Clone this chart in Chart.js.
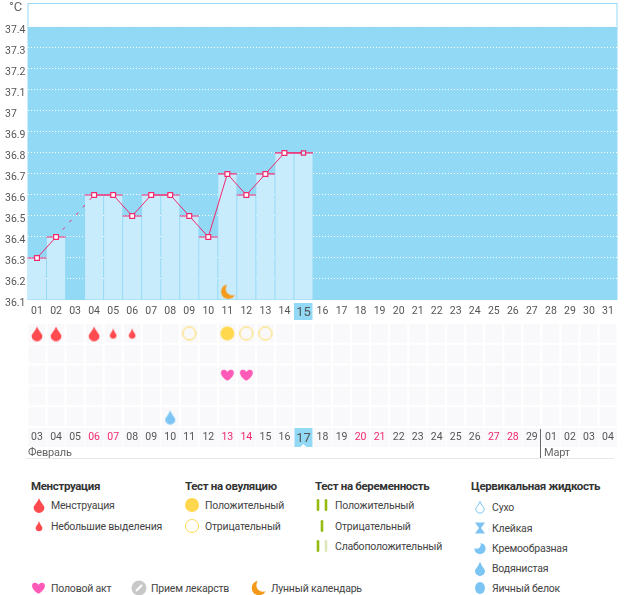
<!DOCTYPE html>
<html>
<head>
<meta charset="utf-8">
<title>График БТТ</title>
<script src="https://cdn.jsdelivr.net/npm/chart.js@4"></script>
<style>
  html, body { margin: 0; padding: 0; background: #fff; overflow: hidden; }
  body { width: 626px; height: 595px; position: relative; font-family: Roboto, sans-serif; color: #444; }
  canvas { position: absolute; }
  #tempWrap { position: absolute; left: 0; top: 0; width: 626px; height: 322px; }
  #symWrap { position: absolute; left: 0; top: 320px; width: 626px; height: 128px; }
  .t { position: absolute; font-size: 10.5px; letter-spacing: -0.2px; line-height: 14px; white-space: nowrap; margin-top: 1px; }
  .h { position: absolute; font-size: 11.5px; letter-spacing: -0.35px; line-height: 14px; font-weight: 700; white-space: nowrap; color: #333; }
  .m { position: absolute; font-size: 11px; letter-spacing: -0.2px; line-height: 14px; color: #666; white-space: nowrap; }
  .rule { position: absolute; background: #e8e8e8; }
</style>
</head>
<body>
<div id="tempWrap"><canvas id="tempChart"></canvas></div>
<div id="symWrap"><canvas id="symChart"></canvas></div>

<div class="m" style="left:9px;top:0px;font-size:13px">°C</div>
<div class="m" style="left:28px;top:446px">Февраль</div>
<div class="m" style="left:544px;top:446px">Март</div>
<div class="rule" style="left:26px;top:458px;width:588px;height:1px"></div>
<div class="rule" style="left:540px;top:429px;width:1px;height:29px;background:#666"></div>

<div class="h" style="left:31px;top:479px">Менструация</div>
<div class="t" style="left:51px;top:498px">Менструация</div>
<div class="t" style="left:51px;top:519px">Небольшие выделения</div>

<div class="h" style="left:185px;top:479px">Тест на овуляцию</div>
<div class="t" style="left:205px;top:498px">Положительный</div>
<div class="t" style="left:205px;top:519px">Отрицательный</div>

<div class="h" style="left:315px;top:479px">Тест на беременность</div>
<div class="t" style="left:335px;top:498px">Положительный</div>
<div class="t" style="left:335px;top:519px">Отрицательный</div>
<div class="t" style="left:335px;top:539px">Слабоположительный</div>

<div class="h" style="left:471px;top:479px">Цервикальная жидкость</div>
<div class="t" style="left:492px;top:500px">Сухо</div>
<div class="t" style="left:492px;top:521px">Клейкая</div>
<div class="t" style="left:492px;top:541px">Кремообразная</div>
<div class="t" style="left:492px;top:561px">Водянистая</div>
<div class="t" style="left:492px;top:581px">Яичный белок</div>

<div class="t" style="left:51px;top:581px">Половой акт</div>
<div class="t" style="left:151px;top:581px">Прием лекарств</div>
<div class="t" style="left:271px;top:581px">Лунный календарь</div>

<script>
// cycle days on the top axis, calendar dates on the bottom one
const cycleDays = ["01","02","03","04","05","06","07","08","09","10","11","12","13","14","15","16",
  "17","18","19","20","21","22","23","24","25","26","27","28","29","30","31"];
const calendarDays = ["03","04","05","06","07","08","09","10","11","12","13","14","15","16","17","18",
  "19","20","21","22","23","24","25","26","27","28","29","01","02","03","04"];
const redDates = [3,4,10,11,17,18,24,25]; // positions of the red dates
const todayIndex = 14;

const temps = [36.3,36.4,null,36.6,36.6,36.5,36.6,36.6,36.5,36.4,36.7,36.6,36.7,36.8,36.8];
const tempTicks = [36.1,36.2,36.3,36.4,36.5,36.6,36.7,36.8,36.9,37,37.1,37.2,37.3,37.4];

const menstruationDays = ["01","02","04"];
const spottingDays = ["05","06"];
const ovulationPosDays = ["11"];
const ovulationNegDays = ["09","12","13"];
const intercourseDays = ["11","12"];
const wateryDays = ["08"];
const moonDays = ["11"];

const BLUE = "#92d9f5", BAR = "#c9ecfd", PINK = "#f0286e", RED = "#ff4b4f", INK = "#555", CELL = "#f9f9fb";
const YELLOW = "#ffd84d", HEART = "#ff5ab8", WATER = "#7cc4f4", ORANGE = "#f49a1a";
const TICK_FONT = "Roboto";

// ---- icons
function icon(w, h, fn) {
  const c = document.createElement("canvas");
  c.width = w; c.height = h;
  fn(c.getContext("2d"), w / 2, h / 2);
  return c;
}
function dropPath(g, cx, cy, r, hh) {
  // r = belly radius, hh = height of the tip above centre
  g.beginPath();
  g.moveTo(cx, cy - hh);
  g.bezierCurveTo(cx + r * 0.3, cy - hh * 0.45, cx + r, cy - r * 0.3, cx + r, cy + r * 0.1);
  g.arc(cx, cy + r * 0.1, r, 0, Math.PI);
  g.bezierCurveTo(cx - r, cy - r * 0.3, cx - r * 0.3, cy - hh * 0.45, cx, cy - hh);
  g.closePath();
}
const bigDrop = () => icon(14, 18, (g, x, y) => { dropPath(g, x, y + 2, 5.4, 9); g.fillStyle = RED; g.fill(); });
const smallDrop = () => icon(10, 14, (g, x, y) => { dropPath(g, x, y + 1.5, 3.4, 6.5); g.fillStyle = RED; g.fill(); });
const solidCircle = () => icon(16, 16, (g, x, y) => { g.beginPath(); g.arc(x, y, 7, 0, 7); g.fillStyle = YELLOW; g.fill(); });
const ringCircle = () => icon(16, 16, (g, x, y) => { g.beginPath(); g.arc(x, y, 6.5, 0, 7); g.strokeStyle = YELLOW; g.lineWidth = 1; g.stroke(); });
const heart = () => icon(15, 14, (g, x, y) => {
  g.beginPath();
  g.moveTo(x, y + 5.8);
  g.bezierCurveTo(x - 9, y, x - 7, y - 5.6, x - 3.4, y - 5.2);
  g.bezierCurveTo(x - 1.6, y - 5, x, y - 3.6, x, y - 2.8);
  g.bezierCurveTo(x, y - 3.6, x + 1.6, y - 5, x + 3.4, y - 5.2);
  g.bezierCurveTo(x + 7, y - 5.6, x + 9, y, x, y + 5.8);
  g.fillStyle = HEART; g.fill();
});
const waterDrop = () => icon(14, 18, (g, x, y) => { dropPath(g, x, y + 2.5, 5, 9); g.fillStyle = WATER; g.fill(); });
const moon = () => icon(18, 18, (g, x, y) => {
  g.fillStyle = ORANGE;
  g.beginPath(); g.arc(x + 1, y, 7.3, 0, 7); g.fill();
  g.globalCompositeOperation = "destination-out";
  g.beginPath(); g.arc(x + 5, y - 3, 6.7, 0, 7); g.fill();
});
const pill = () => icon(16, 16, (g, x, y) => {
  g.beginPath(); g.arc(x, y, 7.5, 0, 7); g.fillStyle = "#c8c8c8"; g.fill();
  g.strokeStyle = "#fff"; g.lineWidth = 2;
  g.beginPath(); g.moveTo(x - 3, y + 3); g.lineTo(x + 3, y - 3); g.stroke();
});
const bars = (a, b, one) => icon(16, 14, (g, x, y) => {
  g.lineWidth = 2.6; g.lineCap = "round";
  const draw = (px, col) => { g.strokeStyle = col; g.beginPath(); g.moveTo(px, y - 4.7); g.lineTo(px, y + 4.7); g.stroke(); };
  if (one) { draw(x, a); return; }
  draw(x - 4, a); draw(x + 4, b);
});
const dryDrop = () => icon(14, 16, (g, x, y) => { dropPath(g, x, y + 1.5, 4.2, 7); g.strokeStyle = WATER; g.lineWidth = 1; g.stroke(); });
const sticky = () => icon(14, 14, (g, x, y) => {
  g.fillStyle = WATER;
  g.beginPath(); g.moveTo(x - 5, y - 5.5); g.lineTo(x + 5, y - 5.5); g.lineTo(x + 1, y); g.lineTo(x + 5, y + 5.5);
  g.lineTo(x - 5, y + 5.5); g.lineTo(x - 1, y); g.closePath(); g.fill();
});
const creamy = () => icon(14, 14, (g, x, y) => {
  g.fillStyle = WATER;
  g.beginPath(); g.arc(x, y + 0.5, 5.6, 0, 7); g.fill();
  g.globalCompositeOperation = "destination-out";
  g.beginPath(); g.arc(x - 3.4, y - 3.5, 4.2, 0, 7); g.fill();
});
const eggWhite = () => icon(14, 16, (g, x, y) => { g.beginPath(); g.ellipse(x, y, 5, 6, 0, 0, 7); g.fillStyle = WATER; g.fill(); });

// legend icons, centre points
const GREEN = "#96bc12", PALE = "#dde8ba";
[[bigDrop(),38.5,505],[smallDrop(),38.5,526],[solidCircle(),192,505],[ringCircle(),192,526],
 [bars(GREEN,GREEN),322,505],[bars(GREEN,GREEN,true),322,526],[bars(GREEN,PALE),322,546],
 [dryDrop(),480,507],[sticky(),480,528],[creamy(),480,548],[waterDrop(),480,568],[eggWhite(),480,588],
 [heart(),38,588],[pill(),139,588],[moon(),258,588]
].forEach(([c, x, y]) => {
  c.style.left = (x - c.width / 2) + "px";
  c.style.top = (y - c.height / 2) + "px";
  document.body.appendChild(c);
});

// ---- temperature chart
const frame = {
  id: "frame",
  beforeDraw(chart) {
    const { ctx, chartArea: a, scales: { x, y } } = chart;
    ctx.save();
    const top = y.getPixelForValue(37.4);
    ctx.fillStyle = BLUE;
    ctx.fillRect(a.left, top, a.right - a.left, a.bottom - top);
    ctx.strokeStyle = BLUE;
    ctx.strokeRect(a.left + 0.5, a.top + 0.5, a.right - a.left - 1, top - a.top);
    const p = x.getPixelForValue(todayIndex);
    ctx.fillRect(p - 9.5, a.bottom + 3, 18.5, 17);
    ctx.restore();
  }
};

new Chart(document.getElementById("tempChart"), {
  data: {
    labels: cycleDays,
    datasets: [
      { type: "scatter", data: moonDays.map(d => ({ x: d, y: 36.14 })), pointStyle: moon(), order: 0 },
      { type: "line", data: temps, order: 1, borderColor: PINK, borderWidth: 1, pointStyle: "rect", tension: 0, spanGaps: true,
        pointRadius: ctx => ctx.dataIndex === todayIndex ? 3 : 3.4,
        pointBackgroundColor: ctx => ctx.dataIndex === todayIndex ? BAR : "#fff",
        pointBorderColor: PINK, pointBorderWidth: 1.2,
        segment: { borderDash: ctx => (ctx.p0.skip || ctx.p1.skip) ? [3, 7] : undefined } },
      { type: "line", data: temps, order: 2, showLine: false, pointStyle: "line", pointRadius: 9.5,
        pointBorderColor: PINK, pointBorderWidth: 1.2 },
      { type: "bar", data: temps, order: 3, backgroundColor: BAR, categoryPercentage: 1, barPercentage: 0.95,
        base: 36.1, inflateAmount: 0 }
    ]
  },
  options: {
    responsive: true, maintainAspectRatio: false, animation: false, events: [],
    layout: { autoPadding: false, padding: { top: 3, right: 8.5, left: 5, bottom: 0 } },
    plugins: { legend: { display: false }, tooltip: { enabled: false } },
    scales: {
      x: {
        type: "category",
        grid: { display: false, drawTicks: false }, border: { display: false },
        afterFit: s => { s.height = 22; s.paddingLeft = 0; s.paddingRight = 0; },
        ticks: {
          maxRotation: 0, autoSkip: false, padding: 5,
          color: INK,
          font: ctx => ({ family: TICK_FONT, size: ctx.index === todayIndex ? 13 : 10.5 })
        }
      },
      y: {
        min: 36.1, max: 37.514,
        afterBuildTicks: s => { s.ticks = tempTicks.map(v => ({ value: v })); },
        afterFit: s => { s.width = 22.5; s.paddingTop = 0; s.paddingBottom = 0; },
        grid: { color: "#fff", drawTicks: false, lineWidth: 1 },
        border: { display: false, dash: [1, 2] },
        ticks: {
          color: INK, padding: 5, labelOffset: 3, crossAlign: "far",
          font: { family: TICK_FONT, size: 10.5 },
          callback: v => String(+(+v).toFixed(1))
        }
      }
    }
  },
  plugins: [frame]
});

// ---- symbol grid with the calendar dates under it
const rowTop = 4.5; // value on the row scale for the first row, counted from the top
const atRow = (days, row) => days.map(d => ({ x: d, y: rowTop - row }));
const cellRows = [0, 1, 2, 3, 4].map(r => ({
  type: "bar", order: 9, data: cycleDays.map(() => [r, r + 1]), grouped: false,
  backgroundColor: CELL, borderColor: "#fff", borderWidth: 1, borderSkipped: false,
  categoryPercentage: 1, barPercentage: 1, inflateAmount: 0
}));

// label row under the grid, filled per column from the same x scale
const dateRow = {
  id: "dateRow",
  beforeDraw(chart) {
    const { ctx, chartArea: a, scales: { x } } = chart;
    ctx.save();
    cycleDays.forEach((d, i) => {
      const p = x.getPixelForValue(i);
      ctx.fillStyle = i === todayIndex ? BLUE : CELL;
      ctx.fillRect(p - 9, a.bottom + 1, 18, 19);
    });
    const p = x.getPixelForValue(todayIndex);
    ctx.fillStyle = "#fff";
    ctx.beginPath();
    ctx.moveTo(p - 3, a.bottom + 20); ctx.lineTo(p, a.bottom + 17); ctx.lineTo(p + 3, a.bottom + 20);
    ctx.fill();
    ctx.restore();
  }
};

new Chart(document.getElementById("symChart"), {
  data: {
    labels: cycleDays,
    datasets: [
      ...cellRows,
      { type: "scatter", order: 1, data: atRow(menstruationDays, 0), pointStyle: bigDrop() },
      { type: "scatter", order: 1, data: atRow(spottingDays, 0), pointStyle: smallDrop() },
      { type: "scatter", order: 1, data: atRow(ovulationPosDays, 0), pointStyle: solidCircle() },
      { type: "scatter", order: 1, data: atRow(ovulationNegDays, 0), pointStyle: ringCircle() },
      { type: "scatter", order: 1, data: atRow(intercourseDays, 2), pointStyle: heart() },
      { type: "scatter", order: 1, data: atRow(wateryDays, 4), pointStyle: waterDrop() }
    ]
  },
  options: {
    responsive: true, maintainAspectRatio: false, animation: false, events: [],
    layout: { autoPadding: false, padding: { top: 3, right: 8.5, left: 27.5, bottom: 0 } },
    plugins: { legend: { display: false }, tooltip: { enabled: false } },
    scales: {
      x: {
        type: "category",
        grid: { display: false, drawTicks: false }, border: { display: false },
        afterFit: s => { s.height = 21; s.paddingLeft = 0; s.paddingRight = 0; },
        ticks: {
          maxRotation: 0, autoSkip: false, padding: 4,
          color: ctx => redDates.includes(ctx.index) ? PINK : INK,
          font: ctx => ({ family: TICK_FONT, size: ctx.index === todayIndex ? 13 : 10.5 }),
          callback: (v, i) => calendarDays[i]
        }
      },
      y: { display: false, min: 0, max: 5 }
    }
  },
  plugins: [dateRow]
});
</script>
</body>
</html>
